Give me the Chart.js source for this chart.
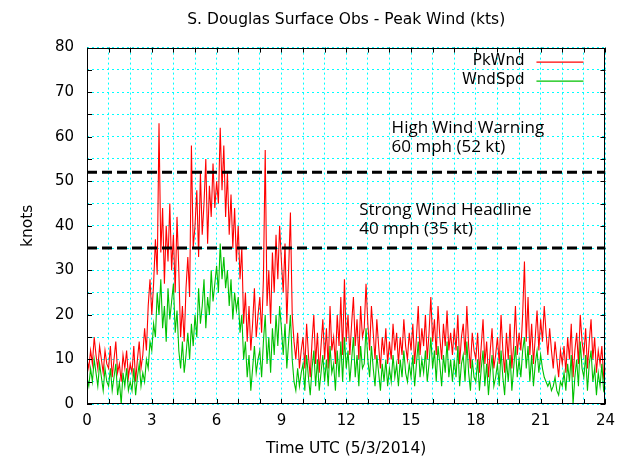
<!DOCTYPE html>
<html><head><meta charset="utf-8">
<script src="https://cdn.jsdelivr.net/npm/chart.js@4"></script>
<style>html,body{margin:0;padding:0;background:#fff;}</style>
</head><body>
<canvas id="c" width="623" height="458"></canvas>
<script>
// ---- data (5-minute samples, hour 0 .. 24) ----
const stepMinutes = 5;
const pkWnd = [
  10, 8,12, 9,15,11, 8,13,10, 7,12, 9,   // 0h
   8,13, 6,10,14, 7, 9, 5,11, 8,12, 6,   // 1h
   9, 7,13, 5,10,14, 8,11,17,12,22,28,   // 2h
  20,27,37,29,63,34,44,27,40,32,45,30,   // 3h
  38,25,42,30,15,22,14,26,33,24,58,35,   // 4h
  40,48,33,52,38,45,55,36,49,42,54,44,   // 5h
  50,45,62,48,58,42,52,38,47,35,44,32,   // 6h
  40,28,35,18,25,14,22,12,18,26,15,20,   // 7h
  24,16,28,57,22,30,18,34,25,38,28,40,   // 8h
  32,25,36,18,30,43,20,14,10,16, 8,12,   // 9h
  15, 8,18,11, 6,14,20, 9,16, 7,13,19,   // 10h
  10,17, 8,22,12,15, 9,20,13,24,11,28,   // 11h
  14,20,11,18,24,13,19,10,22,15,17,27,   // 12h
  18,12,22,16,10,19,13, 8,15,11,17, 9,   // 13h
  14,10,18,12,16, 9,15,11,19,13,10,16,   // 14h
  12,18, 9,15,22,11,17,13,20,10,16,24,   // 15h
  14,19,11,22,15,10,18,13,21,12,16,11,   // 16h
  17,12,20, 9,15,18,11,22,13, 8,16,12,   // 17h
  10,16, 7,13,19, 9,14, 6,12,17, 8,11,   // 18h
  15, 9,20,12, 7,16,10,18, 8,13,22,11,   // 19h
  16,12,20,32,14,24,11,18, 9,15,21,12,   // 20h
  19,14,22,16,11,17,12, 8,14,10, 6,12,   // 21h
   9,13, 7,15,10,18, 6,12,16, 9,20,14,   // 22h
  11,17, 8,14,19,10,15, 7,12, 9,13, 6,   // 23h
   8
];
const wndSpd = [
   6, 4, 8, 5,10, 7, 4, 9, 6, 3, 8, 5,
   4, 8, 3, 6, 9, 2, 5, 0, 7, 4, 8, 3,
   5, 3, 8, 2, 6, 9, 4, 7, 5,10, 8,14,
  12,18,15,25,20,28,17,22,14,26,19,23,
  27,16,21,12, 8,14, 7,11,16,10,18,13,
  20,15,26,18,22,28,17,24,20,30,23,27,
  31,25,36,28,33,26,30,22,28,19,25,21,
  24,16,20,10,14, 6,11, 3, 8,13, 7,10,
  12, 6,14,20, 9,15, 7,17,11,20,13,22,
  17,11,18, 8,14,20,10, 5, 3, 8, 4, 7,
   9, 3,11, 6, 2, 8,12, 4,10, 3, 7,11,
   5,10, 4,13, 7, 9, 3,12, 6,14, 5,15,
   8,12, 5,10,15, 6,11, 4,13, 8, 9,17,
  10, 6,13, 8, 4,11, 7, 3, 9, 5,10, 4,
   8, 5,11, 6, 9, 4,10, 6,12, 7, 5, 9,
   6,11, 4, 9,14, 6,10, 7,12, 5, 9,15,
   8,12, 5,13, 9, 4,11, 7,14, 6,10, 5,
  10, 6,13, 4, 9,11, 5,14, 7, 3,10, 6,
   5,10, 3, 8,12, 4, 9, 2, 7,11, 4, 6,
   9, 4,12, 6, 2,10, 5,11, 3, 8,13, 6,
  10, 6,12,15, 8,13, 5,11, 4, 9,12, 7,
  11, 8, 6, 5, 4, 5, 3, 4, 6, 3, 2, 5,
   4, 7, 3, 9, 5,11, 0, 6,10, 4,14, 8,
   6,11, 3, 9,12, 5, 8, 2, 7, 4, 9, 3,
   4
];
const seriesNames = ['PkWnd', 'WndSpd'];
const thresholds = [52, 35];
const thresholdText = [
  ['High Wind Warning', '60 mph (52 kt)'],
  ['Strong Wind Headline', '40 mph (35 kt)']
];
const thresholdTextAt = [[14.1, 62], [12.6, 43.6]]; // [hour, knots] of first text line
const xTickLabels = [0, 3, 6, 9, 12, 15, 18, 21, 24];
const yTickLabels = [0, 10, 20, 30, 40, 50, 60, 70, 80];

const toXY = arr => arr.map((v, i) => ({x: i * stepMinutes / 60, y: v}));

Chart.defaults.font.family = '"DejaVu Sans", sans-serif';
Chart.defaults.font.size = 15;
Chart.defaults.color = '#000';

const overlay = {
  id: 'overlay',
  afterDatasetsDraw(chart) {
    const {ctx, chartArea: a, scales: {x, y}} = chart;
    ctx.save();
    // ticks (inward, all sides)
    ctx.strokeStyle = '#000'; ctx.lineWidth = 1;
    ctx.beginPath();
    x.ticks.forEach(t => {
      const px = Math.round(x.getPixelForValue(t.value)) + 0.5;
      ctx.moveTo(px, a.bottom); ctx.lineTo(px, a.bottom - 5);
      ctx.moveTo(px, a.top); ctx.lineTo(px, a.top + 5);
    });
    y.ticks.forEach(t => {
      const py = Math.round(y.getPixelForValue(t.value)) + 0.5;
      ctx.moveTo(a.left, py); ctx.lineTo(a.left + 5, py);
      ctx.moveTo(a.right, py); ctx.lineTo(a.right - 5, py);
    });
    ctx.stroke();
    // frame
    ctx.strokeRect(Math.round(a.left) + 0.5, Math.round(a.top) + 0.5,
      Math.round(a.right - a.left) - 1, Math.round(a.bottom - a.top) - 1);
    // annotations
    ctx.fillStyle = '#000';
    ctx.font = '17px "Open Sans"';
    ctx.textAlign = 'left'; ctx.textBaseline = 'middle';
    thresholdText.forEach((lines, i) => {
      const px = x.getPixelForValue(thresholdTextAt[i][0]);
      const py = y.getPixelForValue(thresholdTextAt[i][1]);
      lines.forEach((s, j) => ctx.fillText(s, px, py + j * 19));
    });
    // legend
    ctx.font = '15px "DejaVu Sans"';
    ctx.textAlign = 'right';
    const cols = ['#ff0000', '#00c000'];
    seriesNames.forEach((n, i) => {
      const ly = a.top + 14 + i * 19;
      ctx.fillText(n, a.right - 81, ly);
      ctx.strokeStyle = cols[i]; ctx.lineWidth = 1.2;
      ctx.beginPath(); ctx.moveTo(a.right - 69, ly + 0.5); ctx.lineTo(a.right - 22, ly + 0.5); ctx.stroke();
    });
    ctx.restore();
  }
};

const thresholdSets = thresholds.map(v => ({
  data: [{x: 0, y: v}, {x: 24, y: v}],
  borderColor: '#000', borderWidth: 3, borderDash: [10, 5],
  pointRadius: 0, order: -1
}));

new Chart(document.getElementById('c'), {
  type: 'line',
  data: {
    datasets: [
      {label: seriesNames[0], data: toXY(pkWnd), borderColor: '#ff0000', borderWidth: 1.1, pointRadius: 0, order: 2},
      {label: seriesNames[1], data: toXY(wndSpd), borderColor: '#00c000', borderWidth: 1.1, pointRadius: 0, order: 1},
      ...thresholdSets
    ]
  },
  options: {
    responsive: false, animation: false, devicePixelRatio: 1,
    layout: {padding: {left: 0, right: 17, top: 0, bottom: 0}},
    plugins: {
      legend: {display: false}, tooltip: {enabled: false},
      title: {display: true, fullSize: false, text: 'S. Douglas Surface Obs - Peak Wind (kts)',
        font: {size: 15.5, weight: 'normal'}, padding: {top: 11, bottom: 18}}
    },
    scales: {
      x: {
        type: 'linear', min: 0, max: 24,
        afterFit: s => { s.height = 54; },
        ticks: {stepSize: 1, autoSkip: false, maxRotation: 0, padding: 8,
          callback: v => xTickLabels.includes(v) ? String(v) : ''},
        grid: {color: '#00ffff', lineWidth: 1, drawTicks: false},
        border: {display: false, dash: [2, 3]},
        title: {display: true, text: 'Time UTC (5/3/2014)', font: {size: 15.5}, padding: {top: 0, bottom: 0}}
      },
      y: {
        min: 0, max: 80,
        afterFit: s => { s.width = 87; },
        ticks: {stepSize: 5, autoSkip: false, padding: 13,
          callback: v => yTickLabels.includes(v) ? String(v) : ''},
        grid: {color: '#00ffff', lineWidth: 1, drawTicks: false},
        border: {display: false, dash: [2, 3]},
        title: {display: true, text: 'knots', font: {size: 15.5}, padding: {top: 19, bottom: 0}}
      }
    }
  },
  plugins: [overlay]
});
</script>
</body></html>
